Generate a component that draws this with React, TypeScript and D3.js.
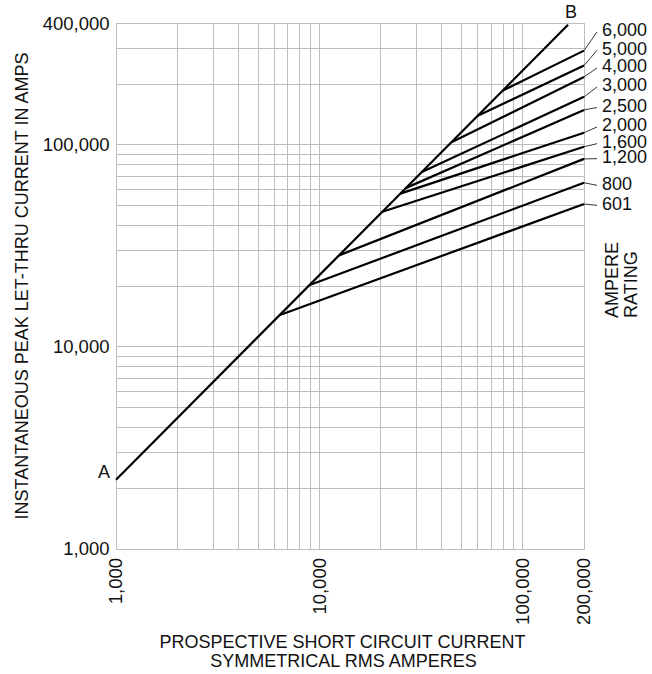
import * as d3 from "d3";

const WIDTH = 652;
const HEIGHT = 674;
const PLOT = { left: 116, right: 584, top: 23.3, bottom: 549 };
const FONT = "'Liberation Sans', Arial, Helvetica, sans-serif";

// line A-B (peak let-thru = ~2.3 x symmetrical RMS)
const abCurrent = [1000, 167000];
const abPeak = [2200, 393000];

// ampere ratings and where each let-thru line leaves A-B and meets the right edge
const ratings = ["601", "800", "1,200", "1,600", "2,000", "2,500", "3,000", "4,000", "5,000", "6,000"];
const kinkCurrent = [6400, 8900, 12500, 20400, 25000, 26700, 31900, 44600, 60100, 79700];
const kinkPeak = [14400, 20200, 28400, 46700, 57400, 61300, 73500, 103000, 139600, 185800];
const endCurrent = 200000;
const endPeak = [51000, 65000, 85300, 98000, 115000, 149000, 173000, 217000, 247000, 293000];

const xTickLabels = [1000, 10000, 100000, 200000];
const yTickLabels = [1000, 10000, 100000, 400000];

// label placement on the right (layout only)
const LABEL_Y = [203.3, 183.3, 156.7, 141.7, 125, 105.5, 85, 66, 48.3, 30];

export default function App() {
  const x = d3.scaleLog().domain([1000, 200000]).range([PLOT.left, PLOT.right]);
  const y = d3.scaleLog().domain([1000, 400000]).range([PLOT.bottom, PLOT.top]);
  const fmt = d3.format(",");

  const line = d3
    .line<[number, number]>()
    .x((d) => x(d[0]))
    .y((d) => y(d[1]));

  const abPath = line(abCurrent.map((c, i) => [c, abPeak[i]]));

  return (
    <svg
      width={WIDTH}
      height={HEIGHT}
      style={{ position: "absolute", left: 0, top: 0, background: "#fff" }}
      fontFamily={FONT}
    >
      {/* grid */}
      <g stroke="#bdbdbd" strokeWidth={1} shapeRendering="crispEdges">
        {x.ticks().map((v) => (
          <line key={"gx" + v} x1={x(v)} x2={x(v)} y1={PLOT.top} y2={PLOT.bottom} />
        ))}
        {y.ticks().map((v) => (
          <line key={"gy" + v} x1={PLOT.left} x2={PLOT.right} y1={y(v)} y2={y(v)} />
        ))}
        <rect
          x={PLOT.left}
          y={PLOT.top}
          width={PLOT.right - PLOT.left}
          height={PLOT.bottom - PLOT.top}
          fill="none"
        />
      </g>

      {/* A-B line */}
      <path d={abPath || ""} fill="none" stroke="#000" strokeWidth={2.2} />

      {/* let-thru lines */}
      {ratings.map((r, i) => (
        <path
          key={"l" + r}
          d={line([[kinkCurrent[i], kinkPeak[i]], [endCurrent, endPeak[i]]]) || ""}
          fill="none"
          stroke="#000"
          strokeWidth={2.2}
        />
      ))}

      {/* leaders + rating labels */}
      {ratings.map((r, i) => (
        <g key={"lab" + r}>
          <line
            x1={x(endCurrent)}
            y1={y(endPeak[i])}
            x2={597}
            y2={LABEL_Y[i] + 2}
            stroke="#000"
            strokeWidth={0.8}
          />
          <text x={602} y={LABEL_Y[i]} dy="0.35em" fontSize={18} fill="#111">
            {r}
          </text>
        </g>
      ))}

      {/* A / B */}
      <text x={110} y={478.3} textAnchor="end" fontSize={18} fill="#111">
        A
      </text>
      <text x={571} y={18.3} textAnchor="middle" fontSize={18} fill="#111">
        B
      </text>

      {/* y tick labels */}
      {yTickLabels.map((v) => (
        <text
          key={"yt" + v}
          x={109.5}
          y={y(v)}
          dy="0.35em"
          textAnchor="end"
          fontSize={18.5}
          fill="#111"
        >
          {fmt(v)}
        </text>
      ))}

      {/* x tick labels */}
      {xTickLabels.map((v) => (
        <text
          key={"xt" + v}
          transform={`translate(${x(v)},558) rotate(-90)`}
          dy="0.35em"
          textAnchor="end"
          fontSize={18.5}
          fill="#111"
        >
          {fmt(v)}
        </text>
      ))}

      {/* axis titles */}
      <text
        transform="translate(21.7,286) rotate(-90)"
        dy="0.35em"
        textAnchor="middle"
        fontSize={18}
        fill="#111"
      >
        INSTANTANEOUS PEAK LET-THRU CURRENT IN AMPS
      </text>
      <text x={342.5} y={648.3} textAnchor="middle" fontSize={18} fill="#111">
        PROSPECTIVE SHORT CIRCUIT CURRENT
      </text>
      <text x={343.5} y={666.7} textAnchor="middle" fontSize={18} fill="#111">
        SYMMETRICAL RMS AMPERES
      </text>
      <text
        transform="translate(611.5,318) rotate(-90)"
        dy="0.35em"
        fontSize={18}
        fill="#111"
      >
        AMPERE
      </text>
      <text
        transform="translate(630.5,318) rotate(-90)"
        dy="0.35em"
        fontSize={18}
        fill="#111"
      >
        RATING
      </text>
    </svg>
  );
}
